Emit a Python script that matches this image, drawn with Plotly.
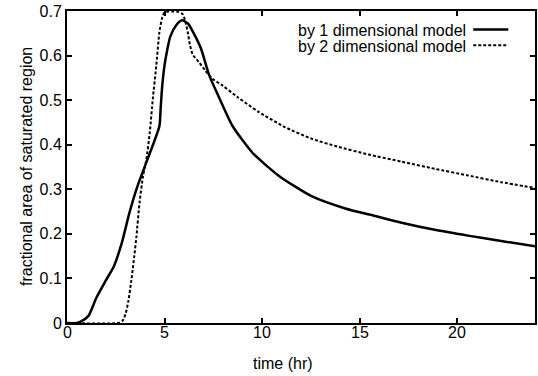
import plotly.graph_objects as go

# 1-dimensional model (solid)
t1 = [0, 0.5, 0.7, 1.1, 1.5, 2.0, 2.4, 2.8, 3.2, 3.56, 3.85, 4.3, 4.74, 4.8, 4.88, 5.0,
      5.15, 5.3, 5.6, 5.9, 6.2, 6.5, 6.87, 7.3, 7.81, 8.49, 9.51, 10.87, 12.57, 14.27,
      15.8, 17.16, 18.86, 20.56, 22.26, 24]
y1 = [0, 0, 0.003, 0.016, 0.056, 0.096, 0.127, 0.178, 0.247, 0.30, 0.335, 0.387, 0.442, 0.48,
      0.53, 0.578, 0.615, 0.643, 0.668, 0.679, 0.672, 0.65, 0.616, 0.555, 0.505, 0.442, 0.382,
      0.33, 0.284, 0.257, 0.240, 0.225, 0.209, 0.196, 0.184, 0.172]

# 2-dimensional model (dotted)
t2 = [0, 2.6, 2.85, 3.0, 3.15, 3.3, 3.45, 3.56, 3.72, 3.9, 4.07, 4.25, 4.4, 4.58, 4.74,
      4.88, 5.0, 5.2, 5.42, 5.7, 5.93, 6.08, 6.19, 6.3, 6.45, 6.79, 7.1, 7.46, 7.97, 8.74,
      9.85, 11.2, 12.57, 13.93, 15.46, 17.16, 18.86, 20.56, 22.26, 24]
y2 = [0, 0, 0.005, 0.02, 0.05, 0.096, 0.15, 0.194, 0.27, 0.33, 0.367, 0.43, 0.503, 0.578,
      0.653, 0.685, 0.697, 0.699, 0.699, 0.698, 0.693, 0.675, 0.653, 0.625, 0.602, 0.584,
      0.566, 0.548, 0.533, 0.507, 0.473, 0.439, 0.413, 0.395, 0.378, 0.362, 0.346, 0.331,
      0.316, 0.303]

series_names = ["by 1 dimensional model", "by 2 dimensional model"]
x_ticks = [0, 5, 10, 15, 20]
y_ticks = [0, 0.1, 0.2, 0.3, 0.4, 0.5, 0.6, 0.7]

FONT = "Liberation Sans, Arial, sans-serif"
DOT = "3px,2px"

fig = go.Figure()
fig.add_trace(go.Scatter(x=t1, y=y1, mode="lines", name=series_names[0],
                         line=dict(color="black", width=2.5, shape="spline", smoothing=0.6),
                         showlegend=False))
fig.add_trace(go.Scatter(x=t2, y=y2, mode="lines", name=series_names[1],
                         line=dict(color="black", width=2, dash=DOT, shape="spline", smoothing=0.6),
                         showlegend=False))

axis_common = dict(showline=True, linecolor="black", linewidth=2, mirror="ticks",
                   ticks="inside", ticklen=5, tickwidth=1.5, tickcolor="black",
                   showgrid=False, zeroline=False,
                   tickfont=dict(family=FONT, size=16, color="black"))

fig.update_xaxes(range=[0, 24], tickvals=x_ticks, showticklabels=False, **axis_common)
fig.update_yaxes(range=[0, 0.7], tickvals=y_ticks, **axis_common)

annotations = [
    dict(text="time (hr)", xref="paper", yref="paper", x=0.5, y=0, xanchor="center",
         yanchor="middle", xshift=-18, yshift=-40, showarrow=False,
         font=dict(family=FONT, size=16, color="black")),
    dict(text="fractional area of saturated region", xref="paper", yref="paper", x=0, y=0.5,
         xanchor="center", yanchor="middle", xshift=-41, textangle=-90, showarrow=False,
         font=dict(family=FONT, size=16, color="black")),
]
# x tick labels placed through the x axis scale
for v in x_ticks:
    annotations.append(dict(text=str(v), xref="x", yref="paper", x=v, y=0,
                            xanchor="center", yanchor="top", yshift=1, showarrow=False,
                            font=dict(family=FONT, size=16, color="black")))

shapes = []
legend_rows = [(0.936, dict(color="black", width=2.5)),
               (0.885, dict(color="black", width=2, dash=DOT))]
for name, (ly, lstyle) in zip(series_names, legend_rows):
    annotations.append(dict(text=name, xref="paper", yref="paper", x=0.857, y=ly,
                            xanchor="right", yanchor="middle", showarrow=False,
                            font=dict(family=FONT, size=16, color="black")))
    shapes.append(dict(type="line", xref="paper", yref="paper", x0=0.868, x1=0.943,
                       y0=ly + 0.005, y1=ly + 0.005, line=lstyle))

fig.update_layout(width=538, height=376, margin=dict(l=67, r=1, t=11, b=53),
                  plot_bgcolor="white", paper_bgcolor="white",
                  annotations=annotations, shapes=shapes,
                  font=dict(family=FONT, size=16, color="black"))

fig.write_html("out.html")
